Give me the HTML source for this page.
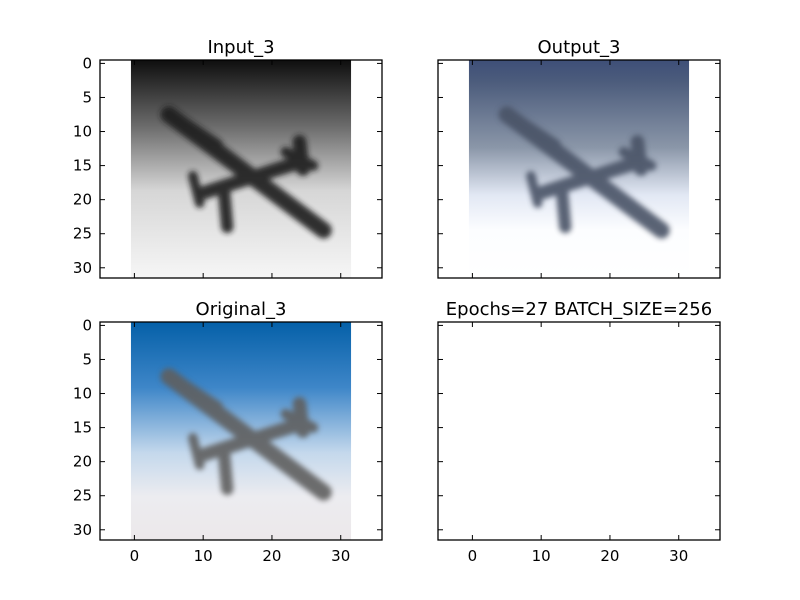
<!DOCTYPE html>
<html><head><meta charset="utf-8"><style>
body{margin:0;background:#fff;}
svg{display:block;font-family:"DejaVu Sans","Liberation Sans",sans-serif;}
</style></head><body>
<svg id="fig" width="800" height="600" viewBox="0 0 800 600" xmlns="http://www.w3.org/2000/svg">
<defs>
<filter id="blur" x="-20%" y="-20%" width="140%" height="140%"><feGaussianBlur stdDeviation="2.6"/></filter>
<linearGradient id="gIn" x1="0" y1="0" x2="0" y2="1">
<stop offset="0" stop-color="#0e0e0e"/><stop offset="0.3" stop-color="#6a6a6a"/><stop offset="0.6" stop-color="#d6d6d6"/><stop offset="1" stop-color="#f6f6f6"/></linearGradient>
<linearGradient id="gOut" x1="0" y1="0" x2="0" y2="1">
<stop offset="0" stop-color="#3e4f78"/><stop offset="0.1" stop-color="#4c5c7c"/><stop offset="0.4" stop-color="#8a96a8"/><stop offset="0.62" stop-color="#e2e8f4"/><stop offset="0.78" stop-color="#fcfdff"/><stop offset="1" stop-color="#ffffff"/></linearGradient>
<linearGradient id="gOrig" x1="0" y1="0" x2="0" y2="1">
<stop offset="0" stop-color="#0560a8"/><stop offset="0.3" stop-color="#3e86c8"/><stop offset="0.6" stop-color="#c4d8ec"/><stop offset="0.8" stop-color="#ececf0"/><stop offset="1" stop-color="#ece8ea"/></linearGradient>
</defs>
</svg>
<script>
const xTicks=[0,10,20,30];
const yTicks=[0,5,10,15,20,25,30];
const titles=["Input_3","Output_3","Original_3","Epochs=27 BATCH_SIZE=256"];
const fills=["url(#gIn)","url(#gOut)","url(#gOrig)",null];
const planeColors=["#1c1c1c","#4a5266","#5e5e5e",null];
const xDomain=[-5,36];
const yDomain=[-0.5,31.5];
const imgExtent=[-0.5,31.5];
// plane strokes in pixel-index coordinates [x1,y1,x2,y2,width]
const planeSegs=[[5,7.5,27.5,24.5,2.4],[10,19,24,14.5,2],[13,18.5,13.5,24,1.8],[24,11.5,24.5,15.5,2],[22,13,26,15,1.5],[8.5,16.5,9.5,20.5,1.4],[6,8,12,12,1.8]];
const NS="http://www.w3.org/2000/svg";
const svg=document.getElementById('fig');
const boxes=[[100,60,382,278],[438,60,720,278],[100,322,382,540],[438,322,720,540]];
function mk(t,a,p){const e=document.createElementNS(NS,t);for(const k in a)e.setAttribute(k,a[k]);(p||svg).appendChild(e);return e;}
boxes.forEach((b,i)=>{
 const [x0,y0,x1,y1]=b;
 const sx=v=>x0+(v-xDomain[0])/(xDomain[1]-xDomain[0])*(x1-x0);
 const sy=v=>y0+(v-yDomain[0])/(yDomain[1]-yDomain[0])*(y1-y0);
 const g=mk('g',{});
 
 
 if(fills[i]){
  const im=mk('g',{},g);
  
  
  mk('rect',{x:sx(imgExtent[0]),y:sy(imgExtent[0]),width:sx(imgExtent[1])-sx(imgExtent[0]),height:sy(imgExtent[1])-sy(imgExtent[0]),fill:fills[i]},im);
  const pg=mk('g',{filter:'url(#blur)',opacity:0.9},im);
  planeSegs.forEach(s=>{
   const l=mk('line',{x1:sx(s[0]),y1:sy(s[1]),x2:sx(s[2]),y2:sy(s[3]),stroke:planeColors[i],'stroke-width':s[4]*6.85,'stroke-linecap':'round'},pg);
   
   
  });
 }
 const fr=mk('rect',{x:x0,y:y0,width:x1-x0,height:y1-y0,fill:'none',stroke:'#000','stroke-width':1.3},g);
 
 
 const tt=mk('text',{x:(x0+x1)/2,y:y0-7,'text-anchor':'middle','font-size':18},g);
 tt.textContent=titles[i];
 
 
 xTicks.forEach(v=>{
  const x=sx(v);
  mk('line',{x1:x,y1:y0,x2:x,y2:y0+5,stroke:'#000'},g);
  mk('line',{x1:x,y1:y1,x2:x,y2:y1-5,stroke:'#000'},g);
  if(i>=2){const t=mk('text',{x:x,y:y1+21,'text-anchor':'middle','font-size':15},g);t.textContent=v;
   }
 });
 yTicks.forEach(v=>{
  const y=sy(v);
  mk('line',{x1:x0,y1:y,x2:x0+5,y2:y,stroke:'#000'},g);
  mk('line',{x1:x1,y1:y,x2:x1-5,y2:y,stroke:'#000'},g);
  if(i%2==0){const t=mk('text',{x:x0-8,y:y+5,'text-anchor':'end','font-size':15},g);t.textContent=v;
   }
 });
});
</script>
</body></html>
